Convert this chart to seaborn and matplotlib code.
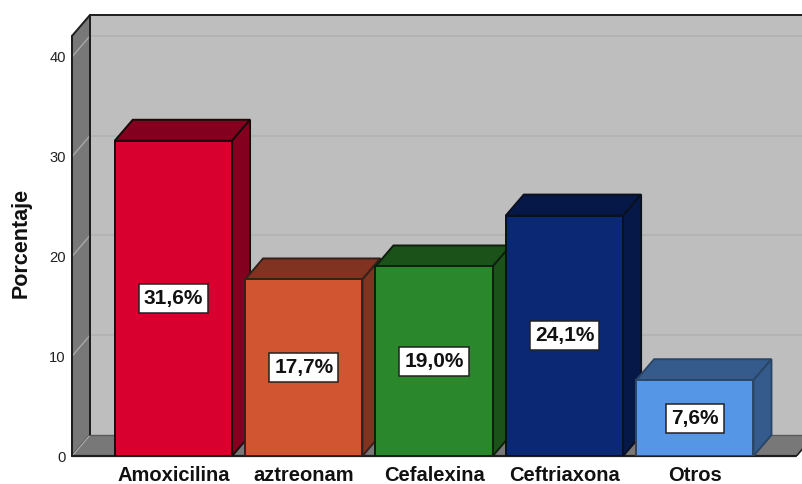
import matplotlib
matplotlib.use("Agg")
import matplotlib.pyplot as plt
from matplotlib.patches import Polygon
import seaborn as sns
import pandas as pd

categories = ["Amoxicilina", "aztreonam", "Cefalexina", "Ceftriaxona", "Otros"]
values = [31.6, 17.7, 19.0, 24.1, 7.6]
front_colors = ["#D7002F", "#D15530", "#2A872B", "#0A2873", "#5596E6"]
top_colors = ["#83001F", "#7F3320", "#1A521A", "#061847", "#345B8C"]
side_colors = ["#83001F", "#7F3320", "#1A521A", "#061847", "#345B8C"]
edge_colors = ["#1A0A0A", "#33221C", "#0F1F0F", "#0A1020", "#2A4666"]
y_ticks = [0, 10, 20, 30, 40]

sns.set_theme(style="white")
plt.rcParams["font.family"] = ["Liberation Sans", "DejaVu Sans"]

W, H = 803, 484
fig = plt.figure(figsize=(W / 100, H / 100), dpi=100, facecolor="white")
ax = fig.add_axes([72 / W, (H - 456) / H, (W - 72) / W, (456 - 15) / H])
ax.patch.set_visible(False)

# 3D depth offsets in data units
DX, DY = 0.138, 2.1
XMIN, XMAX, YMAX = -0.778, 4.83, 44.2
XEND = 4.78
YTOP = YMAX - DY
WALL, SIDE = "#BEBEBE", "#787878"
LINE = "#1E1E1E"

ax.add_patch(Polygon([(XMIN + DX, DY), (XEND + DX, DY), (XEND + DX, YMAX), (XMIN + DX, YMAX)],
                     closed=True, fc=WALL, ec="none", zorder=0.5))
ax.add_patch(Polygon([(XMIN, 0), (XMIN + DX, DY), (XMIN + DX, YMAX), (XMIN, YTOP)],
                     closed=True, fc=SIDE, ec=LINE, lw=1.4, zorder=0.6, clip_on=False, joinstyle="round"))
ax.add_patch(Polygon([(XMIN, 0), (XEND, 0), (XEND + DX, DY), (XMIN + DX, DY)],
                     closed=True, fc=SIDE, ec="none", zorder=0.6, clip_on=False))
for t in y_ticks[1:]:
    ax.plot([XMIN + DX, XEND + DX], [t + DY, t + DY], color="#B2B2B2", lw=1.3, zorder=0.7)
for t in y_ticks:
    ax.plot([XMIN, XMIN + DX], [t, t + DY], color="#A8A8A8", lw=1.0, zorder=0.7)
ax.plot([XMIN, XEND], [0, 0], color=LINE, lw=1.6, zorder=0.8, clip_on=False)
ax.plot([XMIN + DX, XMIN + DX], [DY, YMAX], color=LINE, lw=1.4, zorder=0.8)
ax.plot([XMIN, XMIN], [0, YTOP], color=LINE, lw=1.4, zorder=0.8, clip_on=False)
ax.plot([XMIN + DX, XEND + DX], [YMAX, YMAX], color=LINE, lw=1.4, zorder=0.8, clip_on=False)
ax.plot([XMIN + DX, XEND + DX], [DY, DY], color="#5A5A5A", lw=1.0, zorder=0.8)
ax.plot([XEND, XEND + DX], [0, DY], color=LINE, lw=1.2, zorder=0.8)

df = pd.DataFrame({"Medicamento": categories, "Porcentaje": values})
sns.barplot(data=df, x="Medicamento", y="Porcentaje", hue="Medicamento", order=categories,
            hue_order=categories, palette=front_colors, width=0.9, saturation=1,
            legend=False, ax=ax, zorder=3)

bars = [c[0] for c in ax.containers]
hw = 0.45
for i, (bar, v) in enumerate(zip(bars, values)):
    bar.set_edgecolor(edge_colors[i])
    bar.set_linewidth(1.4)
    ax.add_patch(Polygon([(i - hw, v), (i + hw, v), (i + hw + DX, v + DY), (i - hw + DX, v + DY)],
                         closed=True, fc=top_colors[i], ec=edge_colors[i], lw=1.4, zorder=2.5))
    ax.add_patch(Polygon([(i + hw, 0), (i + hw + DX, DY), (i + hw + DX, v + DY), (i + hw, v)],
                         closed=True, fc=side_colors[i], ec=edge_colors[i], lw=1.4, zorder=2.5))
    ax.text(i, v / 2, f"{v:.1f}%".replace(".", ","), ha="center", va="center",
            fontsize=15, fontweight="bold", color="#111111", zorder=5,
            bbox=dict(boxstyle="square,pad=0.24", fc="white", ec="#222222", lw=1.1))

ax.set_xlim(XMIN, XMAX)
ax.set_ylim(0, YMAX)
ax.set_yticks(y_ticks)
ax.tick_params(axis="y", length=0, pad=4.5, labelsize=10.6, labelcolor="#222222")
ax.tick_params(axis="x", length=0, pad=7.5)
for lab in ax.get_xticklabels():
    lab.set_fontsize(14.5)
    lab.set_fontweight("bold")
    lab.set_color("#111111")
ax.set_xlabel("")
ax.set_ylabel("Porcentaje", fontsize=15.5, fontweight="bold", color="#111111")
ax.yaxis.set_label_coords((32 - 72) / (W - 72), (456 - 243) / (456 - 15))
for s in ax.spines.values():
    s.set_visible(False)

fig.savefig("out.png", dpi=100, facecolor="white")
